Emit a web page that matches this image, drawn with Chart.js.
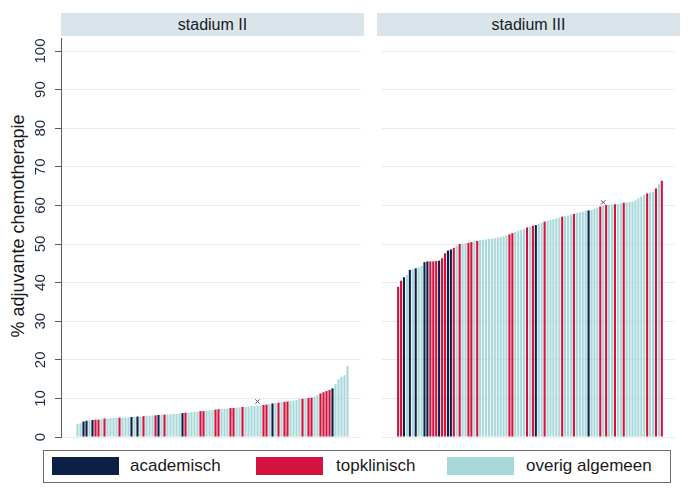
<!DOCTYPE html>
<html>
<head>
<meta charset="utf-8">
<script src="https://cdn.jsdelivr.net/npm/chart.js@4.4.1/dist/chart.umd.min.js"></script>
<style>
  html, body { margin: 0; padding: 0; background: #ffffff; }
  body { width: 694px; height: 499px; position: relative; overflow: hidden; font-family: "Liberation Sans", Arial, sans-serif; }
  .strip { position: absolute; top: 13px; height: 23px; line-height: 23px; background: #d9e4eb; color: #1a1a1a; font-size: 16px; text-align: center; }
  .cv { position: absolute; top: 0; }
  #ytitle { position: absolute; left: 18px; top: 226px; transform: translate(-50%, -50%) rotate(-90deg); white-space: nowrap; font-size: 18px; color: #1a1a1a; }
  #legend { position: absolute; left: 43px; top: 450px; width: 626px; height: 31px; border: 1px solid #6b6b6b; }
  .lbox { position: absolute; top: 6px; width: 67px; height: 18px; }
  .ltxt { position: absolute; top: 4px; font-size: 17px; color: #1a1a1a; line-height: 22px; white-space: nowrap; }
</style>
</head>
<body>
<div class="strip" style="left:61px;width:303px;" id="s1"></div>
<div class="strip" style="left:377px;width:303px;" id="s2"></div>
<div id="ytitle"></div>
<canvas id="c1" class="cv" style="left:0px;" width="366" height="442"></canvas>
<canvas id="c2" class="cv" style="left:377px;" width="303" height="442"></canvas>
<div id="legend"></div>
<script>
// ---------- data ----------
const panelTitles = ["stadium II", "stadium III"];
const yAxisTitle = "% adjuvante chemotherapie";
const categoryNames = ["academisch", "topklinisch", "overig algemeen"];
const categoryColors = ["#0c1f47", "#d3123f", "#a8d8d9"];
const yTicks = [0, 10, 20, 30, 40, 50, 60, 70, 80, 90, 100];

// stadium II: percentage per hospital (sorted)
const valuesII = [
  3.3, 3.6, 4.0, 4.2, 4.3, 4.4, 4.5, 4.5, 4.6, 4.8,
  4.8, 4.9, 4.9, 5.0, 5.0, 5.0, 5.1, 5.1, 5.2, 5.2,
  5.3, 5.3, 5.4, 5.5, 5.5, 5.6, 5.6, 5.7, 5.8, 5.8,
  5.9, 5.9, 6.0, 6.0, 6.1, 6.2, 6.3, 6.3, 6.4, 6.5,
  6.6, 6.7, 6.7, 6.8, 6.9, 7.0, 7.1, 7.2, 7.2, 7.3,
  7.4, 7.5, 7.5, 7.6, 7.7, 7.8, 7.8, 7.9, 8.0, 8.0,
  8.1, 8.2, 8.3, 8.4, 8.5, 8.7, 8.8, 8.9, 9.0, 9.1,
  9.2, 9.3, 9.4, 9.6, 9.8, 9.9, 10.0, 10.1, 10.2, 10.5,
  10.9, 11.3, 11.6, 11.9, 12.2, 12.6, 13.7, 15.0, 15.6, 16.0,
  18.4
];
// hospital type per bar: 0 academisch, 1 topklinisch, 2 overig algemeen
const typesII = [
  2, 2, 0, 0, 2, 0, 1, 1, 2, 1,
  2, 2, 2, 2, 1, 2, 2, 2, 0, 2,
  0, 2, 1, 2, 2, 2, 1, 0, 2, 1,
  2, 2, 2, 2, 2, 0, 1, 2, 2, 2,
  2, 1, 1, 2, 2, 2, 1, 1, 2, 2,
  2, 1, 1, 2, 2, 1, 2, 2, 2, 2,
  2, 2, 1, 1, 2, 0, 2, 1, 2, 1,
  1, 2, 2, 2, 2, 1, 2, 1, 1, 2,
  2, 1, 1, 1, 1, 0, 2, 2, 2, 2,
  2
];

// stadium III
const valuesIII = [
  38.9, 40.5, 41.4, 42.0, 43.3, 43.5, 43.7, 44.0, 44.3, 45.3,
  45.5, 45.5, 45.5, 45.6, 45.7, 46.3, 47.6, 48.3, 48.6, 49.0,
  49.6, 50.0, 50.1, 50.2, 50.3, 50.5, 50.7, 50.8, 51.0, 51.1,
  51.2, 51.3, 51.4, 51.5, 51.7, 51.8, 52.0, 52.2, 52.5, 52.8,
  53.1, 53.4, 53.6, 53.9, 54.3, 54.5, 54.7, 54.9, 55.2, 55.5,
  55.8, 56.0, 56.2, 56.4, 56.6, 56.8, 57.1, 57.2, 57.4, 57.6,
  57.8, 58.0, 58.2, 58.4, 58.6, 58.7, 58.8, 59.1, 59.4, 59.7,
  60.0, 60.1, 60.2, 60.2, 60.3, 60.4, 60.5, 60.7, 60.8, 60.9,
  61.0, 61.3, 61.8, 62.3, 62.8, 63.1, 63.3, 63.5, 64.4, 65.5,
  66.4
];
const typesIII = [
  1, 1, 0, 2, 0, 2, 0, 2, 2, 0,
  0, 1, 1, 1, 0, 1, 1, 0, 0, 1,
  2, 1, 2, 2, 1, 1, 2, 1, 2, 2,
  2, 2, 2, 2, 2, 2, 2, 2, 1, 1,
  2, 2, 2, 2, 1, 2, 1, 0, 2, 2,
  1, 2, 2, 2, 2, 2, 1, 2, 2, 2,
  1, 2, 2, 2, 2, 0, 2, 2, 2, 1,
  2, 1, 2, 2, 1, 2, 2, 1, 2, 2,
  2, 2, 2, 2, 2, 1, 2, 2, 1, 2,
  1
];

// national average markers (bar position, value)
const markerII = { x: 60, y: 9.2 };
const markerIII = { x: 70, y: 60.8 };

// ---------- texts ----------
document.getElementById('s1').textContent = panelTitles[0];
document.getElementById('s2').textContent = panelTitles[1];
document.getElementById('ytitle').textContent = yAxisTitle;
const lg = document.getElementById('legend');
const boxX = [8, 212, 403];
const txtX = [86, 292, 482];
categoryNames.forEach((n, i) => {
  const b = document.createElement('div');
  b.className = 'lbox'; b.style.left = boxX[i] + 'px'; b.style.background = categoryColors[i];
  lg.appendChild(b);
  const t = document.createElement('div');
  t.className = 'ltxt'; t.style.left = txtX[i] + 'px'; t.textContent = n;
  lg.appendChild(t);
});

// ---------- charts ----------
const FONT = "'Liberation Sans', Arial, sans-serif";
function makeChart(id, values, types, marker, showAxis) {
  const barData = values.map((v, i) => ({ x: i, y: v }));
  return new Chart(document.getElementById(id), {
    type: 'bar',
    data: {
      datasets: [
        {
          type: 'scatter',
          data: [marker],
          pointStyle: 'crossRot',
          radius: 3,
          borderColor: '#555555',
          borderWidth: 1,
          order: 0
        },
        {
          data: barData,
          backgroundColor: types.map(t => categoryColors[t]),
          borderWidth: 0,
          barPercentage: 0.72,
          categoryPercentage: 1.0,
          order: 1
        }
      ]
    },
    options: {
      responsive: false,
      animation: false,
      events: [],
      layout: { padding: { top: 38, bottom: 5, left: 0, right: showAxis ? 2 : 0 } },
      plugins: { legend: { display: false }, tooltip: { enabled: false } },
      scales: {
        x: { type: 'linear', min: -5.5, max: 94.5, offset: false, display: false },
        y: {
          min: 0,
          max: 103.37,
          afterBuildTicks: (scale) => { scale.ticks = yTicks.map(v => ({ value: v })); },
          afterFit: (scale) => {
            scale.width = showAxis ? 61 : 0;
            scale.paddingTop = 0; scale.paddingBottom = 0;
          },
          grid: {
            color: '#ebebeb',
            lineWidth: 1,
            drawTicks: showAxis,
            tickLength: 6,
            tickColor: '#5a5a5a'
          },
          border: { display: showAxis, color: '#5a5a5a', width: 1 },
          ticks: {
            display: showAxis,
            minRotation: 90,
            maxRotation: 90,
            crossAlign: 'center',
            padding: 2,
            color: '#1f2d40',
            font: { family: FONT, size: 15 }
          }
        }
      }
    }
  });
}
makeChart('c1', valuesII, typesII, markerII, true);
makeChart('c2', valuesIII, typesIII, markerIII, false);
</script>
</body>
</html>
